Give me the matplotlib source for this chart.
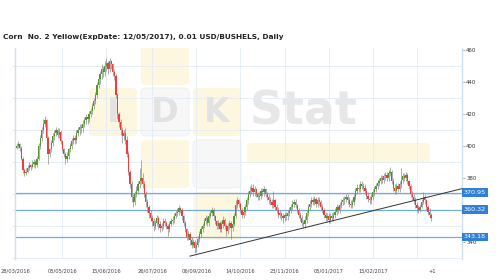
import matplotlib
matplotlib.use('Agg')
import matplotlib.pyplot as plt
import matplotlib.transforms as mtransforms
from matplotlib.patches import FancyBboxPatch
from matplotlib.ticker import MultipleLocator
import numpy as np

# --- data (daily candles) ---
first_open = 399
closes = [
    400, 401, 399, 392, 385, 383, 384, 386, 388, 387,
    389, 390, 388, 392, 400, 405, 410, 414, 416, 405,
    395, 398, 402, 406, 408, 410, 407, 409, 403, 398,
    395, 392, 394, 398, 400, 403, 405, 404, 408, 410,
    412, 411, 414, 416, 418, 417, 420, 422, 425, 428,
    432, 438, 442, 445, 448, 446, 450, 452, 448, 453,
    451, 446, 444, 432, 420, 415, 410, 406, 408, 404,
    395, 384, 376, 368, 365, 370, 372, 376, 378, 380,
    376, 370, 365, 362, 358, 355, 353, 350, 352, 355,
    351, 349, 350, 353, 352, 350, 348, 351, 353, 354,
    356, 358, 359, 361, 360, 356, 352, 348, 343, 345,
    341, 338, 340, 336, 338, 342, 345, 348, 350, 353,
    355, 352, 356, 358, 360, 356, 353, 350, 352, 348,
    351, 354, 350, 347, 350, 352, 349, 351, 356, 363,
    366, 364, 360, 357, 359, 362, 366, 370, 372, 374,
    371, 373, 370, 368, 369, 372, 371, 373, 370, 368,
    366, 365, 363, 366, 362, 360, 357, 358, 356, 355,
    357, 356, 358, 360, 362, 364, 365, 363, 360, 357,
    355, 352, 351, 354, 358, 362, 364, 366, 365, 367,
    364, 366, 365, 362, 360, 357, 355, 356, 354, 356,
    355, 357, 359, 362, 360, 363, 365, 366, 367, 368,
    366, 364, 363, 365, 368, 372, 374, 373, 376, 375,
    374, 372, 369, 367, 366, 368, 371, 373, 375, 377,
    378, 380, 379, 381, 382, 380, 383, 384, 378, 374,
    372, 375, 373, 376, 379, 381, 380, 382, 378, 375,
    370, 368, 366, 363, 361, 360, 362, 365, 368, 366,
    362, 359, 357, 355,
]
highs = [
    402, 403, 402, 400, 393, 386, 386, 388, 390, 389,
    391, 392, 391, 394, 402, 407, 412, 417, 419, 417,
    406, 399, 404, 408, 410, 412, 411, 411, 410, 404,
    399, 396, 396, 399, 402, 405, 407, 407, 410, 412,
    414, 414, 416, 418, 420, 420, 422, 424, 427, 430,
    434, 440, 444, 447, 451, 450, 453, 455, 453, 455,
    454, 452, 448, 445, 433, 421, 417, 412, 410, 411,
    406, 397, 385, 378, 370, 372, 375, 378, 386, 391,
    383, 378, 372, 367, 363, 360, 357, 355, 354, 357,
    356, 353, 352, 355, 355, 353, 351, 353, 355, 356,
    358, 360, 361, 363, 362, 361, 357, 353, 349, 347,
    346, 343, 342, 341, 340, 344, 347, 350, 352, 355,
    357, 356, 358, 360, 362, 361, 357, 354, 354, 353,
    353, 356, 355, 351, 352, 354, 353, 353, 358, 366,
    368, 367, 365, 361, 361, 364, 368, 372, 375, 376,
    376, 375, 374, 371, 371, 374, 374, 375, 374, 371,
    370, 368, 367, 372, 367, 364, 362, 360, 359, 358,
    359, 359, 360, 362, 364, 366, 367, 367, 364, 361,
    359, 357, 354, 356, 360, 364, 366, 368, 368, 369,
    368, 368, 368, 366, 364, 361, 359, 358, 358, 358,
    358, 359, 361, 364, 363, 365, 367, 368, 369, 370,
    370, 368, 366, 367, 370, 374, 376, 376, 378, 378,
    377, 376, 374, 371, 369, 370, 373, 375, 377, 379,
    380, 382, 382, 383, 384, 384, 385, 387, 385, 380,
    376, 377, 377, 378, 386, 383, 383, 384, 383, 379,
    376, 372, 370, 368, 365, 363, 364, 367, 371, 370,
    367, 363, 361, 358,
]
lows = [
    398, 399, 397, 391, 383, 381, 382, 383, 385, 385,
    386, 387, 386, 387, 391, 398, 403, 408, 412, 403,
    389, 393, 396, 400, 404, 406, 405, 405, 401, 396,
    393, 389, 390, 392, 396, 398, 401, 401, 402, 406,
    407, 408, 409, 412, 414, 414, 415, 418, 420, 423,
    426, 430, 436, 439, 442, 443, 444, 447, 445, 446,
    448, 444, 441, 430, 417, 412, 407, 402, 404, 401,
    393, 382, 374, 365, 362, 363, 368, 370, 374, 376,
    374, 368, 362, 359, 355, 353, 350, 347, 348, 350,
    348, 346, 347, 348, 350, 348, 344, 346, 350, 351,
    352, 355, 356, 357, 358, 354, 350, 346, 341, 341,
    338, 336, 337, 333, 334, 337, 340, 343, 346, 349,
    351, 350, 350, 355, 356, 354, 351, 348, 348, 346,
    346, 349, 348, 344, 345, 348, 342, 347, 350, 355,
    361, 362, 358, 355, 355, 357, 360, 364, 368, 370,
    369, 369, 368, 366, 366, 367, 369, 369, 368, 366,
    364, 363, 361, 361, 360, 358, 355, 355, 354, 352,
    353, 354, 354, 356, 358, 360, 362, 361, 358, 355,
    353, 350, 349, 349, 352, 356, 360, 362, 363, 363,
    362, 362, 363, 360, 358, 355, 353, 353, 352, 352,
    353, 353, 355, 357, 358, 358, 361, 363, 364, 365,
    364, 362, 361, 361, 363, 366, 370, 371, 371, 373,
    372, 370, 367, 365, 364, 364, 366, 369, 371, 373,
    375, 376, 377, 377, 379, 378, 378, 381, 376, 372,
    370, 370, 371, 371, 374, 377, 378, 378, 376, 373,
    368, 366, 364, 361, 359, 358, 359, 361, 364, 364,
    360, 357, 355, 353,
]
date_bars = [0, 30, 58, 87, 115, 143, 171, 199, 227, 255]
date_labels = ['28/03/2016', '05/05/2016', '15/06/2016', '26/07/2016', '06/09/2016',
               '14/10/2016', '23/11/2016', '05/01/2017', '15/02/2017', '']
price_labels = [340, 380, 400, 420, 440, 460]
grid_prices = [330, 350, 370, 390, 410, 430, 450]
levels = [370.95, 360.32, 343.18]
trend_x = [111, 285]
trend_y = [331.2, 373.7]
title = 'Corn  No. 2 Yellow(ExpDate: 12/05/2017), 0.01 USD/BUSHELS, Daily'

W, H = 500, 280


def fx(px):
    return px / W


def fy(py):
    return 1 - py / H


fig = plt.figure(figsize=(W / 100, H / 100), dpi=100)
fig.patch.set_facecolor('white')
ax = fig.add_axes([fx(15), fy(259), fx(462) - fx(15), fy(48) - fy(259)])
ax.set_xlim(0, 283.6)
ax.set_ylim(329.4, 461.25)

# watermark (IDK Stat logo), positions in pixels of the figure
yellow = '#fdf7e0'
pale = '#f7f7f7'


def box(x0, y0, x1, y1, fc, ec='none'):
    p = FancyBboxPatch((fx(x0), fy(y1)), fx(x1) - fx(x0), fy(y0) - fy(y1),
                       boxstyle='round,pad=0,rounding_size=0.012',
                       transform=fig.transFigure, fc=fc, ec=ec, lw=0.6, zorder=0.2)
    ax.add_artist(p)
    p.set_clip_path(ax.patch)


box(141, 40, 189, 85, yellow)
box(89, 88, 137, 136, yellow)
box(141, 88, 189, 136, pale, '#eeeeee')
box(193, 88, 241, 136, yellow)
box(141, 140, 189, 188, yellow)
box(193, 140, 241, 188, pale, '#eeeeee')
box(193, 192, 241, 240, yellow)
box(247, 143, 430, 163, yellow)
for px, ch in [(113, 'I'), (165, 'D'), (217, 'K')]:
    ax.text(fx(px), fy(112), ch, transform=fig.transFigure, ha='center', va='center',
            fontsize=24, fontweight='bold', color='#e2e2e2', zorder=0.3)
ax.text(fx(250), fy(112), 'Stat', transform=fig.transFigure, ha='left', va='center',
        fontsize=33, fontweight='bold', color='#e7e7e7', zorder=0.3)

# grid
for g in grid_prices:
    ax.axhline(g, color='#e3ecf5', lw=0.6, zorder=0.5)
for b in date_bars:
    ax.axvline(b, color='#e3ecf5', lw=0.6, zorder=0.5)

# support / resistance levels
for lv in levels:
    ax.axhline(lv, color='#74aadd', lw=0.9, zorder=1)

# candles
x = np.arange(len(closes)) + 1
c = np.array(closes, dtype=float)
o = np.concatenate([[first_open], c[:-1]])
up = c >= o
ax.vlines(x, lows, highs, color='#8c8c8c', lw=0.5, zorder=2)
ax.bar(x, np.maximum(np.abs(c - o), 0.4), bottom=np.minimum(c, o), width=0.8,
       color=np.where(up, '#4f9a2c', '#f23a3a'), linewidth=0, zorder=3)

# trend line
ax.plot(trend_x, trend_y, color='#333333', lw=0.7, zorder=4)

# axes styling
for s in ['top', 'bottom']:
    ax.spines[s].set_visible(False)
ax.spines['left'].set_color('#cfe0f0')
ax.spines['right'].set_color('#cfe0f0')
ax.spines['left'].set_linewidth(1.0)
ax.spines['right'].set_linewidth(1.0)

ax.set_yticks(price_labels)
ax.set_yticklabels([str(v) for v in price_labels])
ax.yaxis.set_minor_locator(MultipleLocator(10))
ax.tick_params(axis='y', which='major', left=False, right=True, labelleft=False, labelright=True,
               length=2, width=0.6, color='#9ab', labelsize=3.9, labelcolor='#333333', pad=1)
ax.tick_params(axis='y', which='minor', left=True, right=False, length=2, width=0.5, color='#cfe0f0')

ax.set_xticks(date_bars)
ax.set_xticklabels(date_labels)
ax.tick_params(axis='x', length=0, labelsize=3.7, labelcolor='#444444', pad=7)
ax.text(265, 321.9, '+1', ha='center', va='center', fontsize=3.7, color='#444444', clip_on=False)

# level boxes on the right
trans = mtransforms.blended_transform_factory(ax.transAxes, ax.transData)
for lv in levels:
    ax.text(1.004, lv, f'{lv:.2f}', transform=trans, ha='left', va='center', fontsize=4.6,
            color='white', zorder=6, clip_on=False,
            bbox=dict(boxstyle='square,pad=0.3', fc='#2f80d6', ec='none'))

fig.text(fx(3), fy(37), title, ha='left', va='center', fontsize=5.3, fontweight='bold', color='#222222')

fig.savefig('out.png', dpi=100)
